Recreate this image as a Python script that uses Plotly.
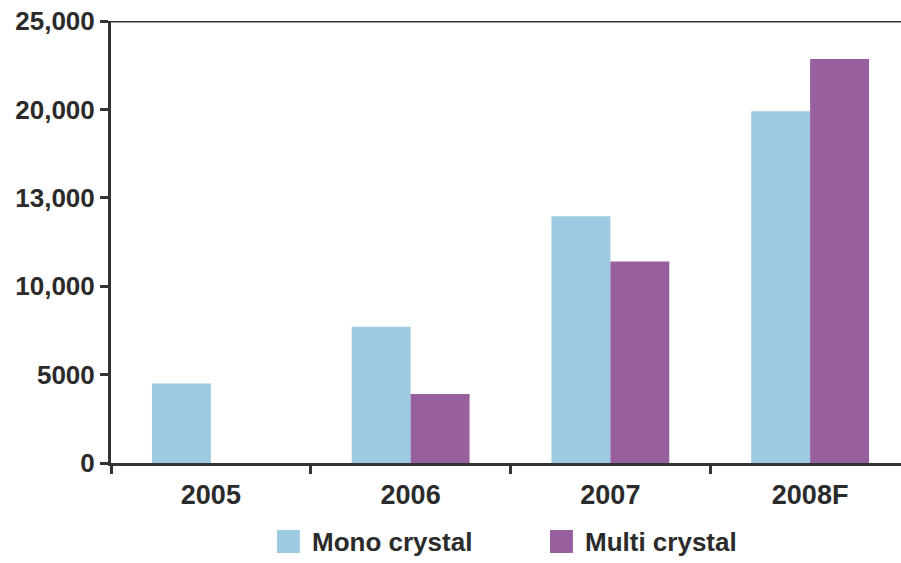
import plotly.graph_objects as go

categories = ["2005", "2006", "2007", "2008F"]
mono = [4500, 7700, 13950, 19900]
multi = [None, 3900, 11400, 22850]
series_names = ["Mono crystal", "Multi crystal"]
ytick_vals = [0, 5000, 10000, 15000, 20000, 25000]
ytick_text = ["0", "5000", "10,000", "13,000", "20,000", "25,000"]

COLORS = ["#9ECAE1", "#975F9E"]
FONT = "Liberation Sans, Arial, sans-serif"
AX = "#333333"
TXT = "#2b2b2b"

fig = go.Figure()
for name, vals, col in zip(series_names, [mono, multi], COLORS):
    fig.add_trace(go.Bar(x=categories, y=vals, name=name,
                         marker=dict(color=col, line=dict(width=0))))

tf = dict(family=FONT, size=27, color=TXT, weight="bold")
fig.update_layout(
    width=901, height=563,
    margin=dict(l=111, r=0, t=21, b=100),
    paper_bgcolor="white", plot_bgcolor="white",
    barmode="group", bargap=0.41, bargroupgap=0,
    font=dict(family=FONT, size=20, color=TXT),
    showlegend=False,
    xaxis=dict(range=[-0.5, 3.455], showline=True, linecolor=AX, linewidth=3,
               ticks="outside", tickson="boundaries", ticklen=8, tickwidth=3,
               tickcolor=AX, showgrid=False, zeroline=False,
               ticklabelstandoff=6, tickfont=tf),
    yaxis=dict(range=[0, 25000], showline=True, linecolor=AX, linewidth=3,
               ticks="outside", ticklen=8, tickwidth=3, tickcolor=AX,
               tickvals=ytick_vals, ticktext=ytick_text, showgrid=False,
               zeroline=False, ticklabelstandoff=0,
               tickfont=dict(family=FONT, size=26, color=TXT, weight="bold")),
)
fig.add_shape(type="line", xref="paper", yref="y", x0=0, x1=1, y0=25000, y1=25000,
              line=dict(color=AX, width=3))

# manual legend (larger swatches like the reference)
leg_x = [0.2101, 0.5557]
for lx, name, col in zip(leg_x, series_names, COLORS):
    fig.add_shape(type="rect", xref="paper", yref="paper",
                  x0=lx, x1=lx + 0.029, y0=-0.1516, y1=-0.2036,
                  fillcolor=col, line=dict(width=0))
    fig.add_annotation(xref="paper", yref="paper", x=lx + 0.042, y=-0.1787,
                       text=name, showarrow=False, xanchor="left", yanchor="middle",
                       font=dict(family=FONT, size=26, color=TXT, weight="bold"))

fig.write_html("out.html")
